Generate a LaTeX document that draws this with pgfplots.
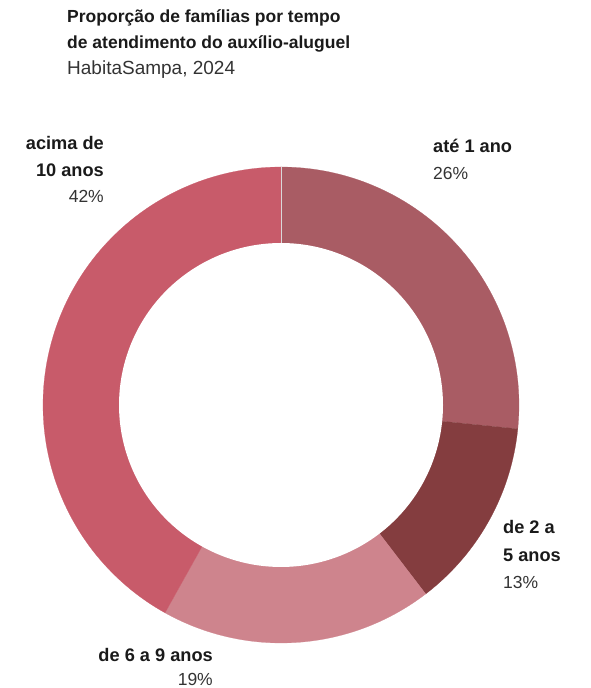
\documentclass[border=0pt]{standalone}
\usepackage{pgfplots}
\pgfplotsset{compat=1.18}
\usepackage{fontspec}
\setmainfont{Liberation Sans}
\definecolor{cA}{HTML}{A95C64}
\definecolor{cB}{HTML}{843D3F}
\definecolor{cC}{HTML}{CE848D}
\definecolor{cD}{HTML}{C85B6A}
\definecolor{txt}{HTML}{1A1A1A}
\definecolor{sub}{HTML}{333333}
% shares (%), clockwise from the top
\def\vA{26.6}\def\vB{13.0}\def\vC{18.5}\def\vD{41.9}
\pgfmathsetmacro\aA{90}
\pgfmathsetmacro\aB{\aA-3.6*\vA}
\pgfmathsetmacro\aC{\aB-3.6*\vB}
\pgfmathsetmacro\aD{\aC-3.6*\vC}
\pgfmathsetmacro\aE{\aD-3.6*\vD}
\def\cx{281}\def\cy{283}\def\R{238}\def\r{162}
\newcommand{\lab}{\fontsize{18.2bp}{20bp}\selectfont\bfseries\color{txt}}
\newcommand{\pct}{\fontsize{17.5bp}{20bp}\selectfont\color{sub}}
\begin{document}
\begin{tikzpicture}
\useasboundingbox (0,0) rectangle (591bp,688bp);
\begin{axis}[
  at={(0,0)}, anchor=south west,
  scale only axis, width=591bp, height=688bp,
  xmin=0, xmax=591, ymin=0, ymax=688,
  hide axis, clip=false,
]
\addplot[fill=cA, draw=cA, line width=0.2pt, domain=\aB:\aA, samples=90] ({\cx+\R*cos(x)},{\cy+\R*sin(x)}) -- (\cx,\cy) -- cycle;
\addplot[fill=cB, draw=cB, line width=0.2pt, domain=\aC:\aB, samples=60] ({\cx+\R*cos(x)},{\cy+\R*sin(x)}) -- (\cx,\cy) -- cycle;
\addplot[fill=cC, draw=cC, line width=0.2pt, domain=\aD:\aC, samples=70] ({\cx+\R*cos(x)},{\cy+\R*sin(x)}) -- (\cx,\cy) -- cycle;
\addplot[fill=cD, draw=cD, line width=0.2pt, domain=\aE:\aD, samples=120] ({\cx+\R*cos(x)},{\cy+\R*sin(x)}) -- (\cx,\cy) -- cycle;
\addplot[fill=white, draw=none, domain=0:360, samples=181] ({\cx+\r*cos(x)},{\cy+\r*sin(x)}) -- cycle;
\addplot[draw=white!70!gray, line width=0.6pt] coordinates {(\cx,\cy+\r) (\cx,\cy+\R)};
% title
\node[anchor=west, inner sep=0, text=txt] at (67,670) {\fontsize{17.5bp}{20bp}\selectfont\bfseries Proporção de famílias por tempo};
\node[anchor=west, inner sep=0, text=txt] at (67,644) {\fontsize{17.5bp}{20bp}\selectfont\bfseries de atendimento do auxílio-aluguel};
\node[anchor=west, inner sep=0, text=sub] at (67,618) {\fontsize{19bp}{20bp}\selectfont HabitaSampa, 2024};
% labels
\node[anchor=east, inner sep=0] at (104,545) {\lab acima de};
\node[anchor=east, inner sep=0] at (104,518) {\lab 10 anos};
\node[anchor=east, inner sep=0] at (104,492) {\pct 42\%};
\node[anchor=west, inner sep=0] at (433,542) {\lab até 1 ano};
\node[anchor=west, inner sep=0] at (433,515) {\pct 26\%};
\node[anchor=west, inner sep=0] at (503,161) {\lab de 2 a};
\node[anchor=west, inner sep=0] at (503,133) {\lab 5 anos};
\node[anchor=west, inner sep=0] at (503,106) {\pct 13\%};
\node[anchor=east, inner sep=0] at (213,33) {\lab de 6 a 9 anos};
\node[anchor=east, inner sep=0] at (213,9) {\pct 19\%};
\end{axis}
\end{tikzpicture}
\end{document}
